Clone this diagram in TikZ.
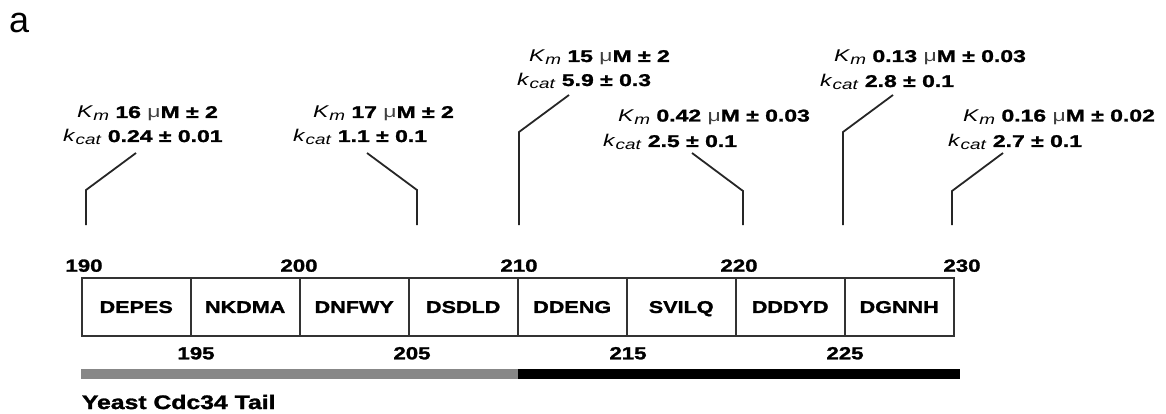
\documentclass[tikz,border=0pt]{standalone}
\usepackage{fontspec}
\setmainfont{Liberation Sans}
\newfontfamily\bxfont[FakeStretch=1.27, BoldFeatures={FakeBold=1.5}]{Liberation Sans}
\newfontfamily\lbfont[FakeStretch=1.35, BoldFeatures={FakeBold=1.5}]{Liberation Sans}
\newcommand{\Kmtxt}{\textit{K}\raisebox{-3pt}{\fontsize{14}{14}\selectfont\textit{m}}}
\newcommand{\kcattxt}{\textit{k}\raisebox{-3pt}{\fontsize{14}{14}\selectfont\textit{cat}}}
\newcommand{\myMu}{{\mdseries\color{black!75}μ}}
\begin{document}
\begin{tikzpicture}[x=1pt,y=-1pt,
  lab/.style={inner sep=0pt, anchor=base west, font=\lbfont\fontsize{17}{20}\selectfont},
  num/.style={inner sep=0pt, anchor=base, font=\bxfont\bfseries\fontsize{17.5}{20}\selectfont},
  cell/.style={draw=black!80, line width=1.6pt, minimum width=109pt, minimum height=58pt, inner sep=0pt, outer sep=0pt, text height=12.5pt, text depth=0pt, font=\bxfont\bfseries\fontsize{17}{20}\selectfont},
  conn/.style={draw=black!85, line width=1.8pt, line join=miter}
]
\useasboundingbox (0,0) rectangle (1166,414);

% panel letter
\node[inner sep=0pt, anchor=base west, font=\fontsize{36}{40}\selectfont] (pa) at (9,33) {a};

% sequence cells
\foreach \i/\t in {1/DEPES,2/NKDMA,3/DNFWY,4/DSDLD,5/DDENG,6/SVILQ,7/DDDYD,8/DGNNH}{
  \node[cell] (c\i) at ({81.7+109*(\i-0.5)},306.7) {\t};
}

% residue numbers above
\node[num] (n190) at (84,271.7) {190};
\node[num] (n200) at (299,271.7) {200};
\node[num] (n210) at (519,271.7) {210};
\node[num] (n220) at (739,271.7) {220};
\node[num] (n230) at (962,271.7) {230};
% residue numbers below
\node[num] (n195) at (196,359.3) {195};
\node[num] (n205) at (412,359.3) {205};
\node[num] (n215) at (628,359.3) {215};
\node[num] (n225) at (845,359.3) {225};

% bars
\fill[black!47] (81,369) rectangle (517.7,379.3);
\fill[black] (517.7,369) rectangle (960,379.3);

\node[inner sep=0pt, anchor=base west, font=\bxfont\bfseries\fontsize{19.5}{22}\selectfont] (title) at (81.7,409) {Yeast Cdc34 Tail};

% kinetic labels
\node[lab] (k1) at (77,118) {\Kmtxt\ \textbf{16} \myMu\textbf{M ± 2}};
\node[lab] (r1) at (63,142) {\kcattxt\ \textbf{0.24 ± 0.01}};
\node[lab] (k2) at (313,118) {\Kmtxt\ \textbf{17} \myMu\textbf{M ± 2}};
\node[lab] (r2) at (293,142) {\kcattxt\ \textbf{1.1 ± 0.1}};
\node[lab] (k3) at (529,62) {\Kmtxt\ \textbf{15} \myMu\textbf{M ± 2}};
\node[lab] (r3) at (517,86) {\kcattxt\ \textbf{5.9 ± 0.3}};
\node[lab] (k4) at (618,121.5) {\Kmtxt\ \textbf{0.42} \myMu\textbf{M ± 0.03}};
\node[lab] (r4) at (603,147) {\kcattxt\ \textbf{2.5 ± 0.1}};
\node[lab] (k5) at (834,62) {\Kmtxt\ \textbf{0.13} \myMu\textbf{M ± 0.03}};
\node[lab] (r5) at (820,87) {\kcattxt\ \textbf{2.8 ± 0.1}};
\node[lab] (k6) at (963,121.5) {\Kmtxt\ \textbf{0.16} \myMu\textbf{M ± 0.02}};
\node[lab] (r6) at (948,147) {\kcattxt\ \textbf{2.7 ± 0.1}};

% connector points
\coordinate (s1) at (136,153); \coordinate (b1) at (86,190);  \coordinate (e1) at (86,225);
\coordinate (s2) at (367,153); \coordinate (b2) at (417,190); \coordinate (e2) at (417,225);
\coordinate (s3) at (569,95);  \coordinate (b3) at (519,132); \coordinate (e3) at (519,225);
\coordinate (s4) at (692,153); \coordinate (b4) at (743,191); \coordinate (e4) at (743,225);
\coordinate (s5) at (893,95);  \coordinate (b5) at (843,132); \coordinate (e5) at (843,225);
\coordinate (s6) at (1003,153);\coordinate (b6) at (952,191); \coordinate (e6) at (952,225);
\foreach \i in {1,...,6}{ \draw[conn] (s\i) -- (b\i) -- (e\i); }
\end{tikzpicture}
\end{document}
